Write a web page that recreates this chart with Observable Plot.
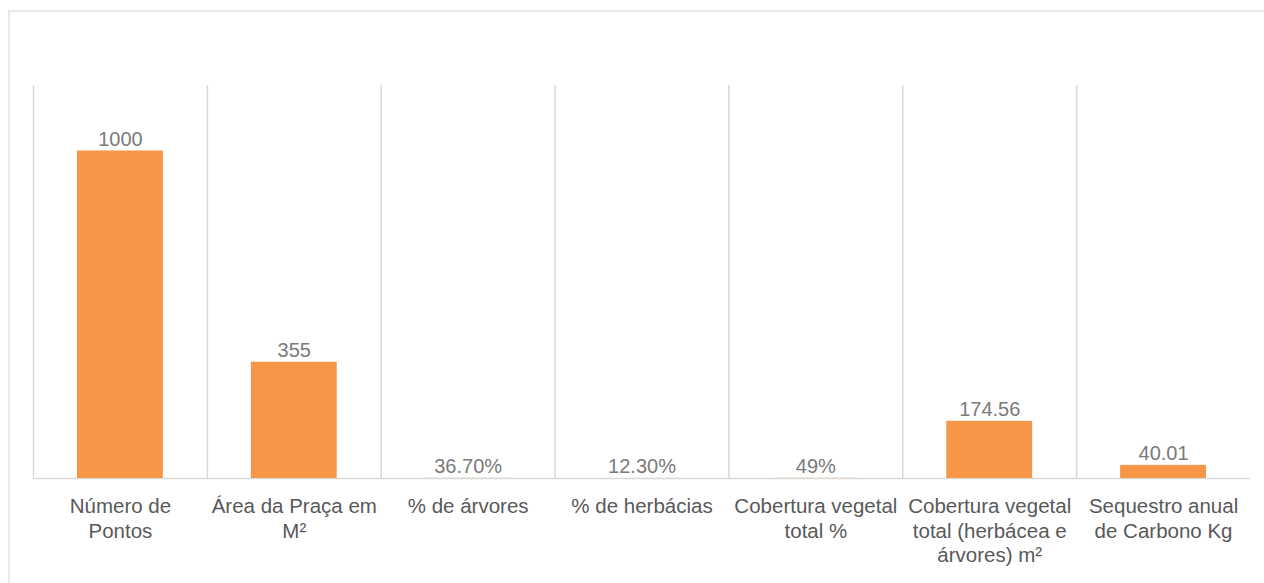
<!DOCTYPE html>
<html>
<head>
<meta charset="utf-8">
<script src="https://cdn.jsdelivr.net/npm/d3@7"></script>
<script src="https://cdn.jsdelivr.net/npm/@observablehq/plot@0.6"></script>
<style>
  html, body { margin: 0; padding: 0; background: #fff; }
  #wrap { position: relative; width: 1264px; height: 583px; overflow: hidden; }
  #frame { position: absolute; left: 8px; top: 10px; width: 1300px; height: 571px;
           border-left: 2px solid #e8e8e8; border-top: 2px solid #e8e8e8; pointer-events: none; }
  svg { font-family: "Liberation Sans", Arial, sans-serif; }
</style>
</head>
<body>
<div id="wrap"><div id="frame"></div></div>
<script>
const categories = ["Número de Pontos", "Área da Praça em M²", "% de árvores", "% de herbácias",
  "Cobertura vegetal total %", "Cobertura vegetal total (herbácea e árvores) m²", "Sequestro anual de Carbono Kg"];
const tickLabels = ["Número de\nPontos", "Área da Praça em\nM²", "% de árvores", "% de herbácias",
  "Cobertura vegetal\ntotal %", "Cobertura vegetal\ntotal (herbácea e\nárvores) m²", "Sequestro anual\nde Carbono Kg"];
const values = [1000, 355, 0.367, 0.123, 0.49, 174.56, 40.01];
const valueLabels = ["1000", "355", "36.70%", "12.30%", "49%", "174.56", "40.01"];

const data = categories.map((c, i) => ({category: c, value: values[i], label: valueLabels[i], tick: tickLabels[i]}));

const W = 1264, H = 583, mL = 33, mR = 14;
const step = (W - mL - mR) / categories.length;

const chart = Plot.plot({
  width: W,
  height: H,
  marginLeft: mL,
  marginRight: mR,
  marginTop: 85,
  marginBottom: 105,
  style: {background: "transparent", fontFamily: "'Liberation Sans', Arial, sans-serif"},
  x: {type: "band", domain: categories, padding: 0, round: false},
  y: {domain: [0, 1200], axis: null},
  marks: [
    Plot.ruleX(categories, {x: d => d, y1: 0, y2: 1200, dx: -step / 2, stroke: "#d9d9d9", strokeWidth: 1.5}),
    Plot.ruleY([0], {stroke: "#d9d9d9", strokeWidth: 1.5}),
    Plot.barY(data, {x: "category", y: "value", fill: "#F79646", insetLeft: 44, insetRight: 44}),
    Plot.text(data, {x: "category", y: "value", text: "label", dy: -5, lineAnchor: "bottom",
      fontSize: 20, fill: "#7a7a7a"}),
    Plot.axisX({tickSize: 0, tickPadding: 17, fontSize: 20.5, lineHeight: 1.2, color: "#595959",
      tickFormat: d => tickLabels[categories.indexOf(d)], label: null})
  ]
});
document.getElementById("wrap").prepend(chart);
</script>
</body>
</html>
